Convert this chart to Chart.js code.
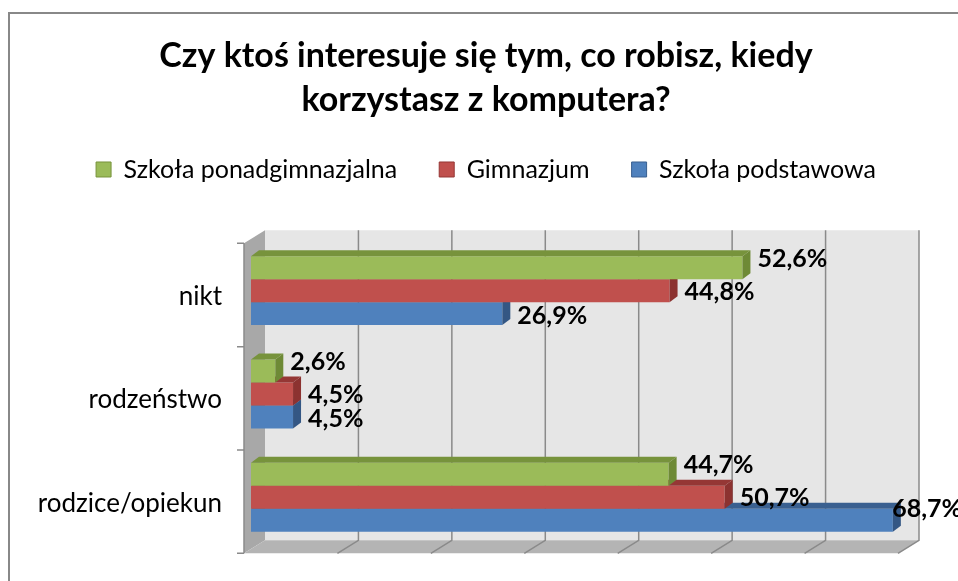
<!DOCTYPE html>
<html>
<head>
<meta charset="utf-8">
<script src="https://cdn.jsdelivr.net/npm/chart.js@4"></script>
<style>
  body { margin: 0; background: #fff; }
  canvas { display: block; }
</style>
</head>
<body>
<canvas id="myChart" width="958" height="581"></canvas>
<script>
const categories = ["nikt", "rodzeństwo", "rodzice/opiekun"];
const seriesNames = ["Szkoła ponadgimnazjalna", "Gimnazjum", "Szkoła podstawowa"];
const ponadgimnazjalna = [52.6, 2.6, 44.7];
const gimnazjum = [44.8, 4.5, 50.7];
const podstawowa = [26.9, 4.5, 68.7];

const fronts = ["#9BBB59", "#C0504D", "#4F81BD"];
const tops = ["#77933C", "#953735", "#3A6090"];
const sides = ["#6E8A36", "#8C3230", "#345784"];
const labelShift = [-9, 1, 2];

// depth of the walls relative to the bar plane
const FRONT = { x: -7, y: 4.3 };
const BACK = { x: 14, y: -8.7 };
const BAR = { x: 8, y: -6 };

Chart.defaults.font.family = "Lato";
Chart.defaults.color = "#000";

function poly(ctx, pts, fill) {
  ctx.beginPath();
  ctx.moveTo(pts[0][0], pts[0][1]);
  for (let i = 1; i < pts.length; i++) ctx.lineTo(pts[i][0], pts[i][1]);
  ctx.closePath();
  ctx.fillStyle = fill;
  ctx.fill();
}

const walls = {
  id: "walls",
  beforeDraw(chart) {
    const ctx = chart.ctx;
    ctx.save();
    ctx.strokeStyle = "#888";
    ctx.lineWidth = 2;
    ctx.strokeRect(9, 13, 2000, 2000);
    ctx.restore();
  },
  beforeDatasetsDraw(chart) {
    const { ctx, chartArea: a, scales } = chart;
    const L = a.left, R = a.right, T = a.top, B = a.bottom;
    ctx.save();
    // back wall
    poly(ctx, [[L + BACK.x, T + BACK.y], [R + BACK.x, T + BACK.y], [R + BACK.x, B + BACK.y], [L + BACK.x, B + BACK.y]], "#e6e6e6");
    // left wall
    poly(ctx, [[L + FRONT.x, T + FRONT.y], [L + BACK.x, T + BACK.y], [L + BACK.x, B + BACK.y], [L + FRONT.x, B + FRONT.y]], "#a8a8a8");
    // floor
    poly(ctx, [[L + FRONT.x, B + FRONT.y], [R + FRONT.x, B + FRONT.y], [R + BACK.x, B + BACK.y], [L + BACK.x, B + BACK.y]], "#b4b4b4");
    ctx.strokeStyle = "#8a8a8a";
    ctx.lineWidth = 1.5;
    ctx.beginPath();
    scales.x.ticks.forEach(t => {
      if (t.value === 0) return;
      const x = scales.x.getPixelForValue(t.value);
      ctx.moveTo(x + BACK.x, T + BACK.y);
      ctx.lineTo(x + BACK.x, B + BACK.y);
      ctx.lineTo(x + FRONT.x, B + FRONT.y);
    });
    // left axis line and category tick marks
    ctx.moveTo(L + FRONT.x, T + FRONT.y);
    ctx.lineTo(L + FRONT.x, B + FRONT.y);
    const n = categories.length;
    for (let i = 0; i <= n; i++) {
      const y = T + (B - T) * i / n + FRONT.y;
      ctx.moveTo(L + FRONT.x - 7, y);
      ctx.lineTo(L + FRONT.x, y);
    }
    ctx.stroke();
    ctx.restore();
  },
  afterDatasetDraw(chart, args) {
    const ctx = chart.ctx;
    const i = args.index;
    ctx.save();
    args.meta.data.forEach(el => {
      const p = el.getProps(["x", "y", "base", "height"], true);
      const top = p.y - p.height / 2, bot = p.y + p.height / 2;
      poly(ctx, [[p.base, top], [p.x, top], [p.x + BAR.x, top + BAR.y], [p.base + BAR.x, top + BAR.y]], tops[i]);
      poly(ctx, [[p.x, top], [p.x, bot], [p.x + BAR.x, bot + BAR.y], [p.x + BAR.x, top + BAR.y]], sides[i]);
    });
    ctx.restore();
  },
  afterDatasetsDraw(chart) {
    const ctx = chart.ctx;
    ctx.save();
    ctx.font = "bold 25px Lato";
    ctx.fillStyle = "#000";
    ctx.textAlign = "left";
    ctx.textBaseline = "middle";
    chart.data.datasets.forEach((ds, i) => {
      chart.getDatasetMeta(i).data.forEach((el, j) => {
        const p = el.getProps(["x", "y", "height"], true);
        const txt = ds.data[j].toFixed(1).replace(".", ",") + "%";
        const w = ctx.measureText(txt).width;
        let x = p.x + 15, y = p.y + labelShift[i];
        if (x + w > chart.width + 4) {
          x = chart.width - w + 4;
          y = p.y - p.height / 2;
        }
        ctx.fillText(txt, x, y);
      });
    });
    ctx.restore();
  }
};

const ctx = document.getElementById("myChart");

new Chart(ctx, {
  type: "bar",
  data: {
    labels: categories,
    datasets: [
      { label: seriesNames[0], data: ponadgimnazjalna, backgroundColor: fronts[0] },
      { label: seriesNames[1], data: gimnazjum, backgroundColor: fronts[1] },
      { label: seriesNames[2], data: podstawowa, backgroundColor: fronts[2] },
    ],
  },
  options: {
    indexAxis: "y",
    responsive: false,
    animation: false,
    layout: { padding: { left: 14, right: 0, top: 0, bottom: 32 } },
    datasets: {
      bar: { categoryPercentage: 0.667, barPercentage: 1, borderWidth: 0 },
    },
    scales: {
      x: {
        type: "linear",
        position: "top",
        min: 0,
        max: 70,
        ticks: { display: false, stepSize: 10 },
        grid: { display: false },
        border: { display: false },
        afterFit: s => { s.height = 47; },
      },
      y: {
        ticks: { padding: 29, labelOffset: 6, font: { size: 26 } },
        grid: { display: false, drawTicks: false },
        border: { display: false },
        afterFit: s => {
          s.width = 237;
          s.paddingTop = 0;
          s.paddingBottom = 0;
        },
      },
      pad: {
        type: "linear",
        position: "right",
        ticks: { display: false },
        grid: { display: false },
        border: { display: false },
        afterFit: s => { s.width = 53; },
      },
    },
    plugins: {
      title: {
        display: true,
        text: ["Czy ktoś interesuje się tym, co robisz, kiedy", "korzystasz z komputera?"],
        font: { size: 34, weight: "bold", lineHeight: 1.294 },
        color: "#000",
        padding: { top: 34, bottom: -7 },
      },
      legend: {
        labels: {
          boxWidth: 15,
          boxHeight: 15,
          padding: 42,
          font: { size: 25 },
          color: "#000",
          generateLabels: chart => chart.data.datasets.map((ds, i) => ({
            text: ds.label,
            fillStyle: fronts[i],
            strokeStyle: tops[i],
            lineWidth: 1,
            datasetIndex: i,
          })),
        },
      },
      tooltip: { enabled: false },
    },
  },
  plugins: [walls],
});
</script>
</body>
</html>
